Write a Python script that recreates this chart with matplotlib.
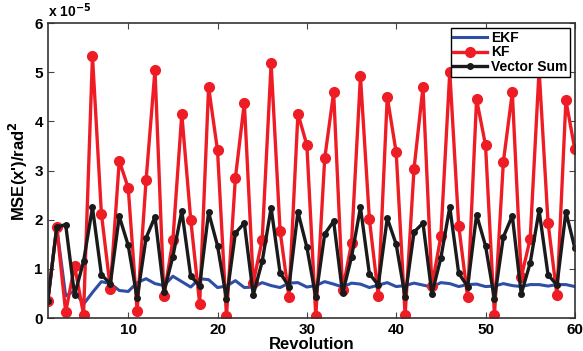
import matplotlib
matplotlib.use("Agg")
import matplotlib.pyplot as plt

# revolution index and MSE values (units of 1e-5 rad^2)
revolution = list(range(1, 61))

ekf = [0.35, 1.85, 0.45, 0.55, 0.28, 0.52, 0.74, 0.70, 0.56, 0.54,
       0.72, 0.80, 0.70, 0.66, 0.85, 0.74, 0.63, 0.80, 0.78, 0.62,
       0.65, 0.76, 0.62, 0.63, 0.72, 0.66, 0.62, 0.71, 0.72, 0.63,
       0.66, 0.74, 0.69, 0.63, 0.71, 0.69, 0.62, 0.67, 0.72, 0.64,
       0.66, 0.71, 0.67, 0.63, 0.72, 0.70, 0.64, 0.68, 0.69, 0.64,
       0.65, 0.70, 0.66, 0.64, 0.68, 0.68, 0.65, 0.68, 0.68, 0.64]

kf = [0.35, 1.85, 0.12, 1.06, 0.07, 5.33, 2.12, 0.60, 3.20, 2.65,
      0.15, 2.80, 5.05, 0.45, 1.58, 4.15, 2.00, 0.29, 4.70, 3.41,
      0.04, 2.85, 4.38, 0.72, 1.59, 5.18, 1.78, 0.42, 4.16, 3.52,
      0.04, 3.25, 4.59, 0.57, 1.52, 4.92, 2.01, 0.45, 4.50, 3.37,
      0.06, 3.04, 4.70, 0.65, 1.66, 5.01, 1.88, 0.42, 4.45, 3.52,
      0.06, 3.18, 4.59, 0.83, 1.61, 5.05, 1.94, 0.46, 4.43, 3.43]

vector_sum = [0.35, 1.85, 1.90, 0.47, 1.15, 2.25, 0.88, 0.70, 2.07, 1.48,
              0.40, 1.63, 2.06, 0.53, 1.25, 2.18, 0.85, 0.66, 2.15, 1.47,
              0.39, 1.73, 1.93, 0.47, 1.15, 2.24, 0.92, 0.64, 2.16, 1.44,
              0.42, 1.71, 1.97, 0.50, 1.24, 2.25, 0.90, 0.67, 2.03, 1.50,
              0.43, 1.75, 1.93, 0.49, 1.22, 2.26, 0.91, 0.64, 2.10, 1.47,
              0.39, 1.65, 2.08, 0.49, 1.12, 2.19, 0.88, 0.67, 2.16, 1.42]

plt.rcParams['font.family'] = ['Liberation Sans', 'DejaVu Sans']
plt.rcParams['font.weight'] = 'bold'

fig = plt.figure(figsize=(5.83, 3.51), dpi=100)
ax = fig.add_axes([0.082, 0.094, 0.904, 0.840])

ax.plot(revolution, ekf, color='#2f4fa6', lw=2.2, label='EKF')
ax.plot(revolution, kf, color='#ee1d25', lw=2.4, marker='o', ms=7,
        label='KF')
ax.plot(revolution, vector_sum, color='#1a1a1a', lw=2.4, marker='o', ms=4,
        label='Vector Sum')

ax.set_xlim(1, 60)
ax.set_ylim(0, 6)
ax.set_xticks([10, 20, 30, 40, 50, 60])
ax.set_yticks(range(0, 7))
ax.tick_params(direction='in', top=True, right=True, length=4,
               width=0.8, labelsize=11, color='#444444')
for lbl in ax.get_xticklabels() + ax.get_yticklabels():
    lbl.set_fontweight('bold')
for sp in ax.spines.values():
    sp.set_linewidth(1.2)
    sp.set_color('#333333')

ax.set_xlabel('Revolution', fontsize=12, fontweight='bold', labelpad=0)
ax.set_ylabel("MSE(x')/rad$^\\mathbf{2}$", fontsize=12, fontweight='bold',
              labelpad=3)
ax.text(0.0, 1.012, 'x 10$^{\\mathbf{-5}}$', transform=ax.transAxes,
        fontsize=10, fontweight='bold', ha='left', va='bottom')

leg = ax.legend(loc='upper right', prop={'weight': 'bold', 'size': 10},
                fancybox=False, edgecolor='black', framealpha=1,
                borderpad=0.2, labelspacing=0.05, handlelength=2.4,
                handletextpad=0.3, borderaxespad=0.35)
leg.get_frame().set_linewidth(1.0)

fig.savefig('out.png', dpi=100)
